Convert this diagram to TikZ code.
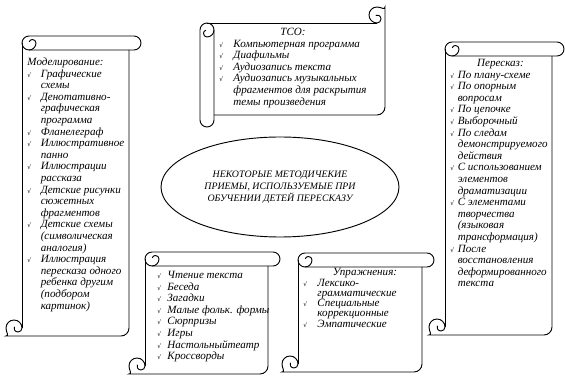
\documentclass[tikz,border=0pt]{standalone}
\usepackage{fontspec}
\setmainfont{Liberation Serif}
\newfontfamily\symfont{DejaVu Sans}
\usetikzlibrary{shapes.geometric}
\newcommand\chk{{\symfont\upshape\fontsize{4.5}{5}\selectfont √}}
\newcommand\itm[1]{\chk & #1\\}
\newcommand\cnt[1]{& #1\\}
% scroll rolled at the top: left, right, top, bottom (pixels)
\newcommand\vscroll[4]{%
  \draw (#1+7,#3) -- (#2+5,#3) arc (-90:90:7) -- (#1+7,#3+14);
  \draw (#1+7,#3) arc (270:0:7) arc (0:-160:3.5);
  \draw (#1,#3+7) -- (#1,#4-8);
  \draw (#2,#3+14) [rounded corners=6] -- (#2,#4) -- (#1-8,#4) [sharp corners] arc (90:360:8) arc (0:200:4);
}
% scroll rolled at the left
\newcommand\hscroll[4]{%
  \draw (#1,#4+5) -- (#1,#3+7) arc (180:450:7) arc (90:250:3.5);
  \draw (#1+14,#3+7) -- (#1+14,#4+5) arc (0:180:7);
  \draw (#1+7,#3) -- (#2-8,#3);
  \draw (#1+14,#4) [rounded corners=6] -- (#2,#4) -- (#2,#3-8) [sharp corners] arc (0:-270:8) arc (90:-110:4);
}
\tikzset{scrolltext/.style={anchor=north west, inner sep=0pt, font=\itshape\fontsize{8.3}{8.7}\selectfont}}

\begin{document}
\begin{tikzpicture}[x=0.75pt, y=-0.75pt, line width=0.7pt]
  \useasboundingbox (0,0) rectangle (565,377);

  \vscroll{22}{129}{36}{336}
  \node [scrolltext] (modeling) at (27,57) {\begin{tabular}{@{}p{10pt}@{}l@{}}
    \multicolumn{2}{@{}l@{}}{Моделирование:}\\
    \itm{Графические}
    \cnt{схемы}
    \itm{Денотативно-}
    \cnt{графическая}
    \cnt{программа}
    \itm{Фланелеграф}
    \itm{Иллюстративное}
    \cnt{панно}
    \itm{Иллюстрации}
    \cnt{рассказа}
    \itm{Детские рисунки}
    \cnt{сюжетных}
    \cnt{фрагментов}
    \itm{Детские схемы}
    \cnt{(символическая}
    \cnt{аналогия)}
    \itm{Иллюстрация}
    \cnt{пересказа одного}
    \cnt{ребенка другим}
    \cnt{(подбором}
    \cnt{картинок)}
  \end{tabular}};

  \hscroll{200}{385}{23}{115}
  \node [scrolltext] (tso) at (219,27) {\begin{tabular}{@{}p{10.5pt}@{}l@{}}
    \multicolumn{2}{@{}c@{}}{ТСО:}\\
    \itm{Компьютерная программа}
    \itm{Диафильмы}
    \itm{Аудиозапись текста}
    \itm{Аудиозапись музыкальных}
    \cnt{фрагментов для раскрытия}
    \cnt{темы произведения}
  \end{tabular}};

  \vscroll{445}{552}{42}{335}
  \node [scrolltext] (retell) at (450,58) {\begin{tabular}{@{}p{5.5pt}@{}l@{}}
    \multicolumn{2}{@{}l@{}}{\hspace{20pt}Пересказ:}\\
    \itm{По плану-схеме}
    \itm{По опорным}
    \cnt{вопросам}
    \itm{По цепочке}
    \itm{Выборочный}
    \itm{По следам}
    \cnt{демонстрируемого}
    \cnt{действия}
    \itm{С использованием}
    \cnt{элементов}
    \cnt{драматизации}
    \itm{С элементами}
    \cnt{творчества}
    \cnt{(языковая}
    \cnt{трансформация)}
    \itm{После}
    \cnt{восстановления}
    \cnt{деформированного}
    \cnt{текста}
  \end{tabular}};

  \node [draw, ellipse, minimum width=178.5pt, minimum height=75pt, inner sep=0pt, align=center,
    font=\itshape\fontsize{7.4}{9}\selectfont] (title) at (280,187)
    {НЕКОТОРЫЕ МЕТОДИЧЕКИЕ\\ПРИЕМЫ, ИСПОЛЬЗУЕМЫЕ ПРИ\\ОБУЧЕНИИ ДЕТЕЙ ПЕРЕСКАЗУ};

  \vscroll{145}{268}{252}{374}
  \node [scrolltext] (reading) at (157,270) {\begin{tabular}{@{}p{7.5pt}@{}l@{}}
    \itm{Чтение текста}
    \itm{Беседа}
    \itm{Загадки}
    \itm{Малые фольк. формы}
    \itm{Сюрпризы}
    \itm{Игры}
    \itm{Настольныйтеатр}
    \itm{Кроссворды}
  \end{tabular}};

  \vscroll{298}{422}{253}{372}
  \node [scrolltext] (exercises) at (303,268) {\renewcommand\arraystretch{0.88}%
    \begin{tabular}{@{}p{10.5pt}@{}l@{}}
    \multicolumn{2}{@{}l@{}}{\hspace{22pt}Упражнения:}\\
    \itm{Лексико-}
    \cnt{грамматические}
    \itm{Специальные}
    \cnt{коррекционные}
    \itm{Эмпатические}
  \end{tabular}};
\end{tikzpicture}
\end{document}
